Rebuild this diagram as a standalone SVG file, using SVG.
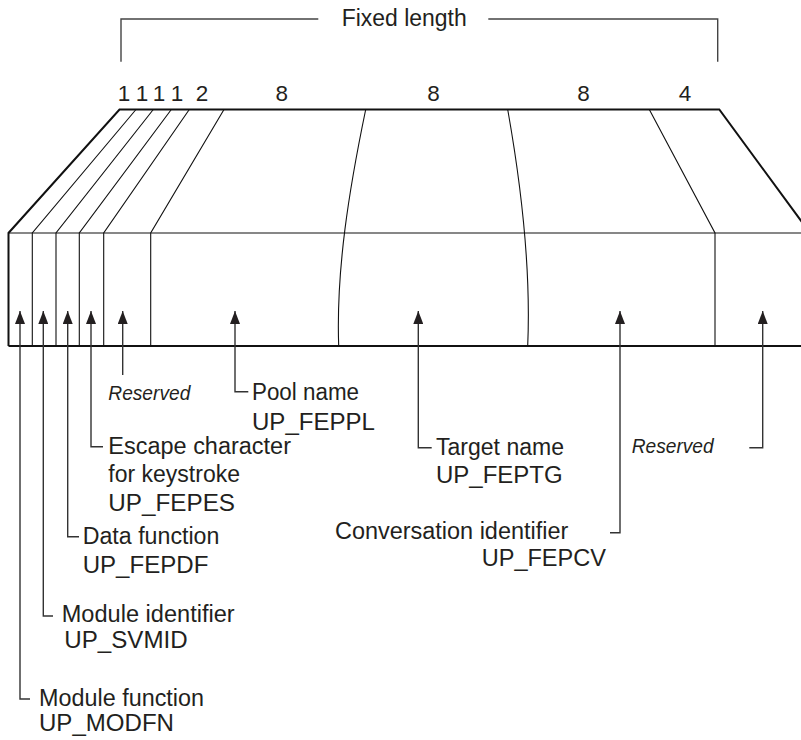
<svg xmlns="http://www.w3.org/2000/svg" width="801" height="740" viewBox="0 0 801 740">
  <style>
    .t { font-family: "Liberation Sans", Arial, sans-serif; font-size: 23.5px; fill: #231f20; }
    .n { font-family: "Liberation Sans", Arial, sans-serif; font-size: 22.5px; fill: #231f20; text-anchor: middle; }
    .r { font-family: "Liberation Sans", Arial, sans-serif; font-size: 20px; font-style: italic; fill: #231f20; }
    .edge { fill: none; stroke: #111; stroke-width: 2; }
    .div { fill: none; stroke: #111; stroke-width: 1.1; }
    .c { fill: none; stroke: #333; stroke-width: 1.4; marker-start: url(#ah); }
    .br { fill: none; stroke: #444; stroke-width: 1.4; }
  </style>
  <defs>
    <marker id="ah" viewBox="0 0 13 10" refX="13" refY="5" markerWidth="13" markerHeight="10" markerUnits="userSpaceOnUse" orient="auto-start-reverse">
      <path d="M0,0 L13,5 L0,10 z" fill="#231f20"/>
    </marker>
  </defs>
  <rect width="801" height="740" fill="#fff"/>

  <g id="header">
    <path class="br" d="M121,61.7 V19 H318.3"/>
    <path class="br" d="M488.3,19 H717.7 V61.7"/>
    <text class="t" x="341.7" y="26" textLength="125" lengthAdjust="spacingAndGlyphs">Fixed length</text>
    <text class="n" x="124" y="100.5">1</text>
    <text class="n" x="142" y="100.5">1</text>
    <text class="n" x="159" y="100.5">1</text>
    <text class="n" x="177" y="100.5">1</text>
    <text class="n" x="202" y="100.5">2</text>
    <text class="n" x="281.7" y="100.5">8</text>
    <text class="n" x="433.5" y="100.5">8</text>
    <text class="n" x="583.5" y="100.5">8</text>
    <text class="n" x="685" y="100.5">4</text>
  </g>

  <g id="record">
    <path class="edge" d="M8.5,346 V233 L119.5,109.5 H719.3 L810,233"/>
    <path class="div" d="M8.5,233 H801" stroke-width="1.5"/>
    <path class="edge" d="M8.5,346 H801"/>
    <path class="div" d="M136,109.5 L32.3,233 V346"/>
    <path class="div" d="M153.3,109.5 L56,233 V346"/>
    <path class="div" d="M171.3,109.5 L79.3,233 V346"/>
    <path class="div" d="M189.3,109.5 L103.7,233 V346"/>
    <path class="div" d="M224,109.5 L150.7,233 V346"/>
    <path class="div" d="M365.7,109.5 C349,190 336,270 338.7,346"/>
    <path class="div" d="M507.7,109.5 C522,190 531,270 527.7,346"/>
    <path class="div" d="M649.3,109.5 L715,233 V346"/>
  </g>

  <g id="connectors">
    <path class="c" d="M20,311 V699 H30"/>
    <path class="c" d="M43.3,311 V616 H53"/>
    <path class="c" d="M67.7,311 V536.7 H79"/>
    <path class="c" d="M91,311 V446.7 H103"/>
    <path class="c" d="M122.7,311 V375"/>
    <path class="c" d="M235,311 V391.7 H248.3"/>
    <path class="c" d="M418.3,311 V447.7 H431.7"/>
    <path class="c" d="M620,311 V532.7 H610"/>
    <path class="c" d="M762.7,311 V447.7 H749.3"/>
  </g>

  <g id="module-function">
    <text class="t" x="39" y="706" textLength="165" lengthAdjust="spacingAndGlyphs">Module function</text>
    <text class="t" x="39" y="731" textLength="135" lengthAdjust="spacingAndGlyphs">UP_MODFN</text>
  </g>
  <g id="module-identifier">
    <text class="t" x="61.7" y="622" textLength="173" lengthAdjust="spacingAndGlyphs">Module identifier</text>
    <text class="t" x="64.3" y="648" textLength="123.4" lengthAdjust="spacingAndGlyphs">UP_SVMID</text>
  </g>
  <g id="data-function">
    <text class="t" x="82.7" y="543.5" textLength="136.7" lengthAdjust="spacingAndGlyphs">Data function</text>
    <text class="t" x="82.7" y="573" textLength="125.7" lengthAdjust="spacingAndGlyphs">UP_FEPDF</text>
  </g>
  <g id="escape-character">
    <text class="t" x="108.3" y="453.5" textLength="182.7" lengthAdjust="spacingAndGlyphs">Escape character</text>
    <text class="t" x="108.3" y="482" textLength="131.7" lengthAdjust="spacingAndGlyphs">for keystroke</text>
    <text class="t" x="108.3" y="510.5" textLength="126.7" lengthAdjust="spacingAndGlyphs">UP_FEPES</text>
  </g>
  <g id="reserved-1">
    <text class="r" x="108.3" y="400" textLength="82" lengthAdjust="spacingAndGlyphs">Reserved</text>
  </g>
  <g id="pool-name">
    <text class="t" x="252" y="400" textLength="107" lengthAdjust="spacingAndGlyphs">Pool name</text>
    <text class="t" x="252" y="429.5" textLength="123" lengthAdjust="spacingAndGlyphs">UP_FEPPL</text>
  </g>
  <g id="target-name">
    <text class="t" x="436" y="454.5" textLength="128" lengthAdjust="spacingAndGlyphs">Target name</text>
    <text class="t" x="436" y="483" textLength="126.7" lengthAdjust="spacingAndGlyphs">UP_FEPTG</text>
  </g>
  <g id="conversation-identifier">
    <text class="t" x="335" y="538.5" textLength="233.3" lengthAdjust="spacingAndGlyphs">Conversation identifier</text>
    <text class="t" x="481.7" y="565.5" textLength="124.3" lengthAdjust="spacingAndGlyphs">UP_FEPCV</text>
  </g>
  <g id="reserved-2">
    <text class="r" x="631.7" y="452.7" textLength="82" lengthAdjust="spacingAndGlyphs">Reserved</text>
  </g>
</svg>
